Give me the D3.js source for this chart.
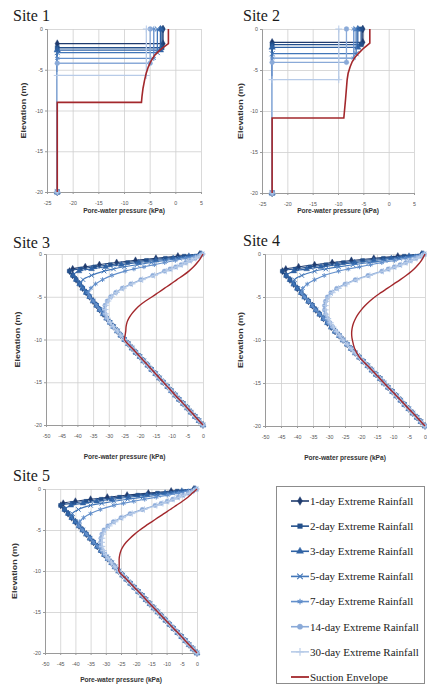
<!DOCTYPE html>
<html>
<head>
<meta charset="utf-8">
<script src="https://cdn.jsdelivr.net/npm/d3@7"></script>
<style>
  body { margin: 0; background: #fff; }
  svg { display: block; }
</style>
</head>
<body>
<svg id="fig" width="427" height="687"></svg>
<script>
// ---- data ----
const siteNames = ["Site 1", "Site 2", "Site 3", "Site 4", "Site 5"];
const seriesNames = ["1-day Extreme Rainfall", "2-day Extreme Rainfall", "3-day Extreme Rainfall",
  "5-day Extreme Rainfall", "7-day Extreme Rainfall", "14-day Extreme Rainfall", "30-day Extreme Rainfall"];
const envelopeName = "Suction Envelope";
const xTitle = "Pore-water pressure (kPa)";
const yTitle = "Elevation (m)";
const xTicksNarrow = [-25, -20, -15, -10, -5, 0, 5];
const xTicksWide = [-50, -45, -40, -35, -30, -25, -20, -15, -10, -5, 0];
const yTicks = [0, -5, -10, -15, -20];

// sites 1 and 2: pressure at surface, wetting-front elevation, pressure below front
const site1Top = [-2.4, -2.6, -2.9, -3.5, -4.2, -4.9, -5.65];
const site1Front = [-1.8, -2.3, -2.6, -2.9, -3.6, -4.2, -5.7];
const site1Dry = -23.0;
const site1Env = [[-1.35, 0], [-1.35, -1.8], [-2.2, -2.2], [-3.0, -2.6], [-4.0, -3.2], [-4.8, -4.0],
  [-5.3, -4.7], [-5.7, -5.5], [-6.0, -6.3], [-6.3, -7.3], [-6.5, -8.3], [-6.6, -9.0], [-23.0, -9.0], [-23.0, -20]];

const site2Top = [-5.1, -5.43, -6.09, -6.42, -6.88, -8.33, -9.84];
const site2Front = [-1.63, -1.91, -2.24, -3.01, -3.54, -4.07, -6.18];
const site2Dry = -23.0;
const site2Env = [[-3.72, 0], [-3.72, -1.71], [-4.9, -2.32], [-6.0, -3.0], [-6.6, -3.4], [-7.2, -4.0],
  [-7.6, -4.6], [-8.0, -5.4], [-8.2, -6.2], [-8.5, -8.5], [-8.85, -10.85], [-23.0, -10.85], [-23.0, -20]];

// sites 3-5: elevation nodes (m)
const elevGrid = [0, -0.25, -0.5, -0.75, -1, -1.25, -1.5, -1.75, -2, -2.5, -3, -3.5, -4, -4.5, -5, -5.5,
  -6, -6.5, -7, -7.5, -8, -8.5, -9, -9.5, -10, -10.5, -11, -11.5, -12, -12.5, -13, -13.5, -14, -14.5,
  -15, -15.5, -16, -16.5, -17, -17.5, -18, -18.5, -19, -19.5, -20];
const envElev = [0, -0.5, -1, -1.5, -2, -2.5, -3, -3.5, -4, -4.5, -5, -5.5, -6, -6.5, -7, -7.5, -8, -8.5,
  -9, -9.5, -10, -11, -12, -13, -14, -15, -16, -17, -18, -19, -20];

// common lower profile, from elevation -2 m down to -20 m
const site3Base = [-42.5, -41.5, -40.4, -39.3, -38.3, -37.2, -36.1, -35.0, -33.9, -32.9, -31.8, -30.7,
  -29.6, -28.5, -27.3, -26.2, -25.0, -23.8, -22.6, -21.4, -20.1, -18.9, -17.6, -16.4, -15.1, -13.9,
  -12.6, -11.3, -10.1, -8.8, -7.6, -6.3, -5.0, -3.8, -2.5, -1.3, 0];
const site3Upper = [
  [-1.0, -8.0, -15.0, -21.5, -27.5, -33.0, -37.5, -41.5],
  [-0.8, -6.0, -12.0, -18.0, -24.0, -29.5, -34.5, -39.0, -42.6],
  [-0.6, -4.5, -9.5, -15.0, -20.5, -26.0, -31.0, -35.5, -39.5, -41.3],
  [-0.4, -3.5, -7.5, -12.0, -16.5, -21.0, -25.0, -28.5, -31.5, -35.5, -38.2, -39.1],
  [-0.3, -2.5, -5.5, -8.8, -12.2, -15.5, -18.8, -22.0, -24.8, -29.0, -32.0, -34.2, -35.7, -36.5],
  [-0.2, -1.2, -2.5, -4.0, -5.5, -7.0, -8.7, -10.5, -12.3, -16.0, -19.8, -23.0, -25.7, -27.8, -29.4,
    -30.5, -31.2, -31.4, -31.2, -30.7, -29.8, -28.7],
  [-0.1, -1.0, -2.3, -3.7, -5.1, -6.6, -8.2, -9.9, -11.7, -15.4, -19.2, -22.5, -25.3, -27.5, -29.1,
    -30.2, -30.9, -31.1, -30.9, -30.4, -29.5, -28.5]
];
const site3Env = [0, -0.8, -1.8, -3.0, -4.5, -6.3, -8.3, -10.2, -12.2, -14.2, -16.2, -18.3, -20.1, -21.5,
  -22.7, -23.6, -24.2, -24.5, -24.6, -24.8, -25.0, -22.6, -20.1, -17.6, -15.1, -12.6, -10.1, -7.6, -5.0, -2.5, 0];

const site4Base = [-44.5, -43.4, -42.2, -41.0, -39.9, -38.7, -37.6, -36.4, -35.2, -34.1, -32.9, -31.7,
  -30.5, -29.3, -28.1, -26.8, -25.6, -24.3, -23.1, -21.8, -20.5, -19.2, -17.9, -16.6, -15.3, -14.0,
  -12.8, -11.5, -10.2, -8.9, -7.6, -6.4, -5.1, -3.8, -2.5, -1.3, 0];
const site4Upper = [
  [-1.0, -8.5, -16.0, -23.0, -29.0, -34.5, -39.5, -43.5],
  [-0.8, -6.5, -13.0, -19.5, -25.5, -31.0, -36.0, -40.5, -44.6],
  [-0.6, -5.0, -10.5, -16.0, -22.0, -27.5, -32.5, -37.0, -41.0, -43.3],
  [-0.4, -3.8, -8.0, -12.5, -17.5, -22.5, -27.0, -31.0, -34.5, -38.5, -40.8, -41.0],
  [-0.3, -2.8, -6.0, -9.5, -13.5, -17.0, -20.5, -24.0, -27.0, -31.5, -34.5, -36.8, -38.2, -38.6],
  [-0.2, -1.3, -2.8, -4.5, -6.0, -7.8, -9.6, -11.5, -13.5, -17.8, -21.8, -25.0, -27.6, -29.4, -30.5,
    -31.1, -31.4, -31.4, -31.1, -30.5, -29.7, -28.8, -27.8, -26.7],
  [-0.1, -1.1, -2.5, -4.1, -5.6, -7.3, -9.1, -11.0, -13.0, -17.2, -21.2, -24.4, -27.0, -28.9, -30.1,
    -30.8, -31.1, -31.1, -30.9, -30.3, -29.5, -28.6, -27.6, -26.6]
];
const site4Env = [0, -0.7, -1.6, -2.8, -4.2, -5.9, -7.8, -9.8, -11.8, -13.8, -15.7, -17.3, -18.7, -19.9,
  -20.9, -21.7, -22.3, -22.7, -22.9, -22.9, -22.7, -22.0, -20.5, -17.9, -15.3, -12.8, -10.2, -7.6, -5.1, -2.5, 0];

const site5Base = [-44.8, -43.6, -42.4, -41.2, -40.0, -38.8, -37.6, -36.4, -35.2, -34.0, -32.8, -31.6,
  -30.5, -29.3, -28.1, -27.0, -25.8, -24.5, -23.2, -21.9, -20.6, -19.3, -18.0, -16.8, -15.5, -14.2,
  -12.9, -11.6, -10.3, -9.0, -7.7, -6.4, -5.1, -3.8, -2.6, -1.3, 0];
const site5Upper = [
  [-1.0, -8.5, -16.0, -23.0, -29.5, -35.0, -40.0, -44.0],
  [-0.8, -6.5, -13.0, -19.5, -25.5, -31.5, -36.5, -41.0, -44.9],
  [-0.6, -5.0, -10.5, -16.5, -22.5, -28.0, -33.0, -37.5, -41.5, -43.5],
  [-0.4, -3.8, -8.0, -12.8, -17.8, -22.8, -27.3, -31.3, -35.0, -39.0, -41.0, -41.2],
  [-0.3, -2.8, -6.0, -9.6, -13.4, -17.2, -20.8, -24.2, -27.3, -31.8, -35.0, -37.3, -38.6, -38.9],
  [-0.2, -1.3, -2.8, -4.5, -6.2, -8.0, -9.8, -11.8, -13.8, -18.0, -22.0, -25.0, -27.5, -29.3, -30.6,
    -31.3, -31.6, -31.7, -31.6, -31.1, -30.3, -29.4],
  [-0.1, -1.1, -2.5, -4.1, -5.8, -7.5, -9.3, -11.2, -13.2, -17.3, -21.3, -24.4, -26.9, -28.8, -30.1,
    -30.9, -31.2, -31.3, -31.2, -30.7, -29.9, -29.0]
];
const site5Env = [0, -1.5, -3.0, -4.8, -6.8, -8.8, -10.9, -12.9, -14.9, -16.9, -18.8, -20.5, -22.0, -23.3,
  -24.3, -25.0, -25.4, -25.6, -25.6, -25.6, -25.7, -23.2, -20.6, -18.0, -15.5, -12.9, -10.3, -7.7, -5.1, -2.6, 0];

// ---- styles ----
const seriesColors = ["#1f3b6e", "#24508c", "#2f62a4", "#4176b8", "#628fcb", "#8aaad8", "#b7cbe8"];
const envelopeColor = "#a3282c";
const markerTypes = [d3.symbolDiamond, d3.symbolSquare, d3.symbolTriangle,
  d3.symbolTimes || d3.symbolCross, d3.symbolAsterisk || d3.symbolStar, d3.symbolCircle, d3.symbolPlus || d3.symbolCross];
const markerStroked = [false, false, false, true, true, false, true];

// ---- build point lists ----
function stepSeries(top, front, dry) {
  return top.map((x0, i) => [[x0, 0], [x0, front[i]], [dry, front[i]], [dry, -20]]);
}
function curveSeries(upper, base) {
  return upper.map(u => u.concat(base.slice(u.length - 8)).map((v, j) => [v, elevGrid[j]]));
}
function curveEnv(vals) {
  return vals.map((v, j) => [v, envElev[j]]);
}

const panels = [
  { name: siteNames[0], xDomain: [-25, 5], xTicks: xTicksNarrow, box: [47, 29, 201, 192],
    label: [13, 21], yLabX: 24, xLabY: 213, series: stepSeries(site1Top, site1Front, site1Dry), env: site1Env,
    smooth: false, msize: 18, lw: 1.3 },
  { name: siteNames[1], xDomain: [-25, 5], xTicks: xTicksNarrow, box: [262, 29, 414, 193],
    label: [243, 21], yLabX: 241, xLabY: 213, series: stepSeries(site2Top, site2Front, site2Dry), env: site2Env,
    smooth: false, msize: 18, lw: 1.3 },
  { name: siteNames[2], xDomain: [-50, 0], xTicks: xTicksWide, box: [46, 254, 203, 425],
    label: [13, 248], yLabX: 18, xLabY: 459, series: curveSeries(site3Upper, site3Base), env: curveEnv(site3Env),
    smooth: true, msize: 15, lw: 1.1 },
  { name: siteNames[3], xDomain: [-50, 0], xTicks: xTicksWide, box: [265, 254, 425, 426],
    label: [243, 246], yLabX: 241, xLabY: 460, series: curveSeries(site4Upper, site4Base), env: curveEnv(site4Env),
    smooth: true, msize: 15, lw: 1.1 },
  { name: siteNames[4], xDomain: [-50, 0], xTicks: xTicksWide, box: [45, 489, 197, 653],
    label: [13, 481], yLabX: 15, xLabY: 682, series: curveSeries(site5Upper, site5Base), env: curveEnv(site5Env),
    smooth: true, msize: 15, lw: 1.1 }
];

const svg = d3.select("#fig");
const sansFont = "Liberation Sans, Arial, sans-serif";
const serifFont = "Liberation Serif, Times New Roman, serif";

function drawMarkers(g, pts, i, size, x, y) {
  const sym = d3.symbol().type(markerTypes[i]).size(size);
  g.selectAll(null).data(pts).enter().append("path")
    .attr("d", sym)
    .attr("transform", d => "translate(" + x(d[0]) + "," + y(d[1]) + ")")
    .attr("fill", markerStroked[i] ? "none" : seriesColors[i])
    .attr("stroke", seriesColors[i])
    .attr("stroke-width", markerStroked[i] ? 1 : 0.4);
}

panels.forEach(p => {
  const [l, t, r, b] = p.box;
  const x = d3.scaleLinear().domain(p.xDomain).range([l, r]);
  const y = d3.scaleLinear().domain([-20, 0]).range([b, t]);
  const g = svg.append("g");

  // gridlines
  g.append("g").attr("transform", "translate(0," + b + ")")
    .call(d3.axisBottom(x).tickValues(p.xTicks).tickSize(-(b - t)).tickFormat(""))
    .call(s => s.select(".domain").remove())
    .call(s => s.selectAll("line").attr("stroke", "#cfcfcf").attr("stroke-width", 0.8));
  g.append("g").attr("transform", "translate(" + l + ",0)")
    .call(d3.axisLeft(y).tickValues(yTicks).tickSize(-(r - l)).tickFormat(""))
    .call(s => s.select(".domain").remove())
    .call(s => s.selectAll("line").attr("stroke", "#cfcfcf").attr("stroke-width", 0.8));

  // axes
  const xa = g.append("g").attr("transform", "translate(0," + b + ")")
    .call(d3.axisBottom(x).tickValues(p.xTicks).tickSize(2).tickPadding(7).tickFormat(d => String(d)));
  const ya = g.append("g").attr("transform", "translate(" + l + ",0)")
    .call(d3.axisLeft(y).tickValues(yTicks).tickSize(2).tickPadding(2).tickFormat(d => String(d)));
  [xa, ya].forEach(a => {
    a.select(".domain").attr("stroke", "#9a9a9a");
    a.selectAll("line").attr("stroke", "#9a9a9a");
    a.selectAll("text").attr("fill", "#555").attr("font-family", sansFont).attr("font-size", 5.3);
  });

  // titles
  g.append("text").attr("x", (l + r) / 2).attr("y", p.xLabY).attr("text-anchor", "middle")
    .attr("font-family", sansFont).attr("font-size", 6.6).attr("font-weight", "bold")
    .attr("fill", "#333").text(xTitle);
  g.append("text").attr("transform", "translate(" + p.yLabX + "," + ((t + b) / 2) + ") rotate(-90)")
    .attr("text-anchor", "middle").attr("dy", "0.35em")
    .attr("textLength", 56).attr("lengthAdjust", "spacingAndGlyphs")
    .attr("font-family", sansFont).attr("font-size", 6.6).attr("font-weight", "bold")
    .attr("fill", "#333").text(yTitle);
  svg.append("text").attr("x", p.label[0]).attr("y", p.label[1])
    .attr("font-family", serifFont).attr("font-size", 16).attr("font-weight", "normal")
    .attr("fill", "#1a1a1a").text(p.name);

  // series
  const line = d3.line().x(d => x(d[0])).y(d => y(d[1]))
    .curve(p.smooth ? d3.curveCatmullRom.alpha(0.5) : d3.curveLinear);
  p.series.forEach((pts, i) => {
    g.append("path").attr("d", line(pts)).attr("fill", "none")
      .attr("stroke", seriesColors[i]).attr("stroke-width", p.lw);
    drawMarkers(g, pts, i, p.msize, x, y);
  });
  g.append("path").attr("d", line(p.env)).attr("fill", "none")
    .attr("stroke", envelopeColor).attr("stroke-width", p.lw + 0.3);
});

// ---- legend ----
const lg = svg.append("g");
lg.append("rect").attr("x", 276.5).attr("y", 486.5).attr("width", 148).attr("height", 197)
  .attr("fill", "#fff").attr("stroke", "#8c8c8c").attr("stroke-width", 1);
const legendY = d3.scalePoint().domain(seriesNames.concat([envelopeName])).range([501, 677]);
seriesNames.forEach((name, i) => {
  const yy = legendY(name);
  lg.append("line").attr("x1", 291).attr("x2", 309).attr("y1", yy).attr("y2", yy)
    .attr("stroke", seriesColors[i]).attr("stroke-width", 1.6);
  const sym = d3.symbol().type(markerTypes[i]).size(22);
  lg.append("path").attr("d", sym).attr("transform", "translate(300," + yy + ")")
    .attr("fill", markerStroked[i] ? "none" : seriesColors[i])
    .attr("stroke", seriesColors[i]).attr("stroke-width", markerStroked[i] ? 1.1 : 0.4);
  lg.append("text").attr("x", 310).attr("y", yy).attr("dy", "0.35em")
    .attr("font-family", serifFont).attr("font-size", 11).attr("fill", "#222").text(name);
});
const ey = legendY(envelopeName);
lg.append("line").attr("x1", 291).attr("x2", 309).attr("y1", ey).attr("y2", ey)
  .attr("stroke", envelopeColor).attr("stroke-width", 1.8);
lg.append("text").attr("x", 310).attr("y", ey).attr("dy", "0.35em")
  .attr("font-family", serifFont).attr("font-size", 11).attr("fill", "#222").text(envelopeName);
</script>
</body>
</html>
